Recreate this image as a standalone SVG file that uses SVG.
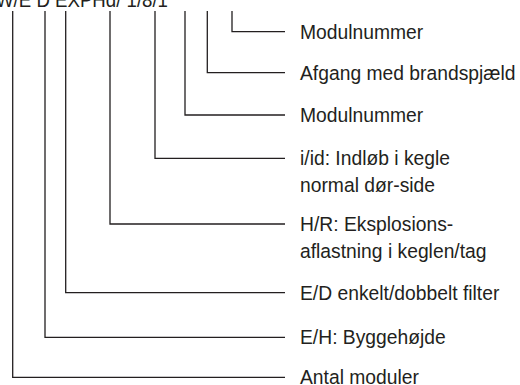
<svg xmlns="http://www.w3.org/2000/svg" width="520" height="385" viewBox="0 0 520 385">
<style>
text{font-family:"Liberation Sans",Arial,sans-serif;font-size:19.3px;fill:#231f20}
.c{fill:none;stroke:#231f20;stroke-width:1.3}
</style>
<rect width="520" height="385" fill="#fff"/>
<text id="code" x="-4" y="7" font-size="20" textLength="172" lengthAdjust="spacingAndGlyphs">W/E D EXPHd/ 1/8/1</text>
<g id="connectors">
<path class="c" d="M232 11V31.7H285"/>
<path class="c" d="M207.3 11V72.7H285"/>
<path class="c" d="M185 11V115H285"/>
<path class="c" d="M155 11V158.3H285"/>
<path class="c" d="M110 11V224H285"/>
<path class="c" d="M65.7 11V292.7H285"/>
<path class="c" d="M45 11V337.3H285"/>
<path class="c" d="M12.7 11V377.3H285"/>
</g>
<g id="n1"><text x="300" y="38.5">Modulnummer</text></g>
<g id="n2"><text x="300" y="79.5">Afgang med brandspjæld</text></g>
<g id="n3"><text x="300" y="121.5">Modulnummer</text></g>
<g id="n4"><text x="300" y="165">i/id: Indløb i kegle</text><text x="300" y="191.5">normal dør-side</text></g>
<g id="n5"><text x="300" y="231">H/R: Eksplosions-</text><text x="300" y="257.5">aflastning i keglen/tag</text></g>
<g id="n6"><text x="300" y="299.5">E/D enkelt/dobbelt filter</text></g>
<g id="n7"><text x="300" y="344">E/H: Byggehøjde</text></g>
<g id="n8"><text x="300" y="383.5">Antal moduler</text></g>
</svg>
